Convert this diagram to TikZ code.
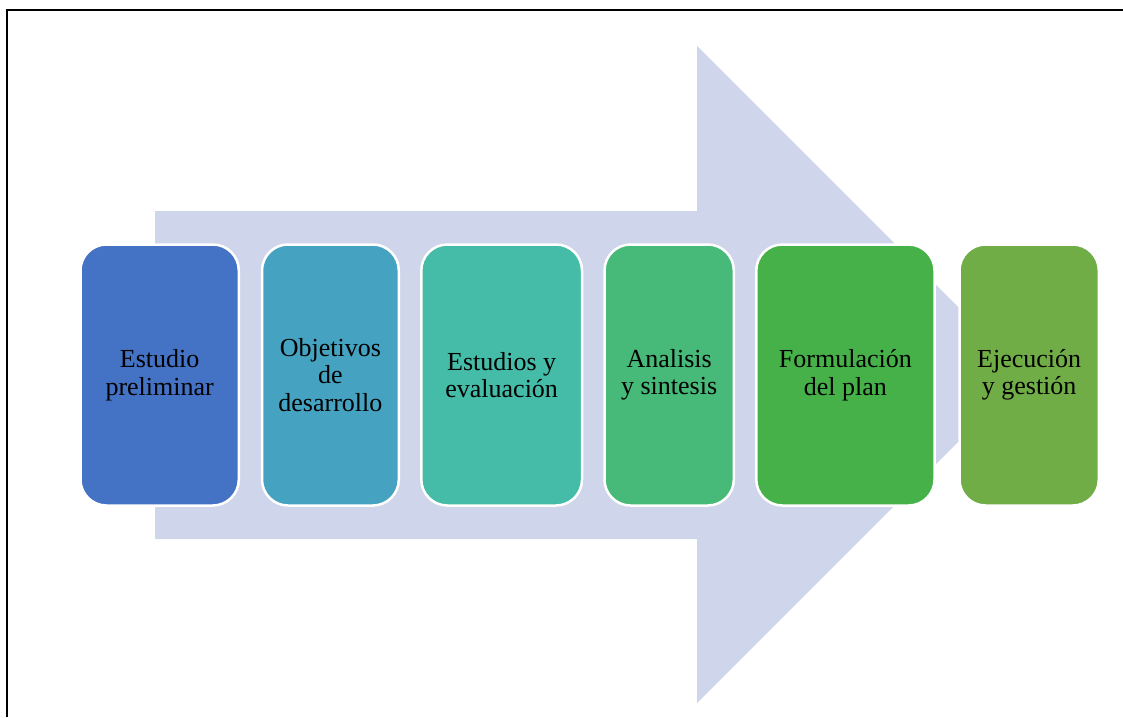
\documentclass[tikz,border=0pt]{standalone}
\usepackage{fontspec}
\setmainfont{Liberation Serif}
\definecolor{arrowfill}{HTML}{CFD5EA}
\definecolor{cA}{HTML}{4472C4}
\definecolor{cB}{HTML}{45A3C1}
\definecolor{cC}{HTML}{45BCA8}
\definecolor{cD}{HTML}{47B979}
\definecolor{cE}{HTML}{47B149}
\definecolor{cF}{HTML}{70AD47}
\begin{document}
\begin{tikzpicture}[x={(1pt,0)},y={(0,-1pt)},
  stagebox/.style={draw=white, line width=2.5pt, rounded corners=26pt,
    minimum height=261pt, inner sep=0pt, align=center,
    font=\fontsize{26}{27.5}\selectfont, text=black}]
\useasboundingbox (0,0) rectangle (1123,717);
% big background arrow
\fill[arrowfill] (155,211) -- (697,211) -- (697,46) -- (1025.5,374.5)
  -- (697,703) -- (697,539) -- (155,539) -- cycle;
% frame
\draw[line width=2pt, black] (7,717) -- (7,10) -- (1123,10);
% stages
\node[stagebox, fill=cA, minimum width=158.3pt] (s1) at (159.65,375) {Estudio\\preliminar};
\node[stagebox, fill=cB, minimum width=136.8pt] (s2) at (330.4,375) {Objetivos\\de\\desarrollo};
\node[stagebox, fill=cC, minimum width=160.7pt] (s3) at (501.65,375) {Estudios y\\evaluación};
\node[stagebox, fill=cD, minimum width=129.3pt] (s4) at (669.15,375) {Analisis\\y sintesis};
\node[stagebox, fill=cE, minimum width=178.2pt] (s5) at (845.4,375) {Formulación\\del plan};
\node[stagebox, fill=cF, minimum width=139.3pt] (s6) at (1029.15,375) {Ejecución\\y gestión};
\end{tikzpicture}
\end{document}
